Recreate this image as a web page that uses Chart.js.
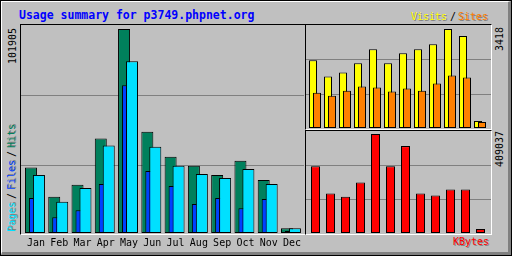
<!DOCTYPE html>
<html>
<head>
<meta charset="utf-8">
<script src="https://cdn.jsdelivr.net/npm/chart.js@4.4.0/dist/chart.umd.min.js"></script>
<style>
  body { margin: 0; background: #c0c0c0; }
  #wrap { position: relative; width: 512px; height: 256px; overflow: hidden; background: #c0c0c0; }
  #frame { position: absolute; left: 0; top: 0; width: 512px; height: 256px; box-sizing: border-box; border: 1px solid #000; }
  #bevel { position: absolute; left: 1px; top: 1px; width: 510px; height: 254px; box-sizing: border-box;
    border-top: 1px solid #fff; border-left: 1px solid #fff; border-right: 3px solid #808080; border-bottom: 3px solid #808080; }
  .panel { position: absolute; box-sizing: border-box; border-top: 1px solid #000; border-left: 1px solid #000;
    border-right: 1px solid #fff; border-bottom: 1px solid #fff; }
  .txt { position: absolute; font-family: "DejaVu Sans Mono", monospace; font-size: 10px; line-height: 10px; white-space: nowrap; }
  .sh { text-shadow: 1px 1px 0 #808080; }
  .up { transform-origin: 0 0; transform: rotate(-90deg); }
  canvas { position: absolute; }
</style>
</head>
<body>
<div id="wrap">
  <div id="frame"></div>
  <div id="bevel"></div>

  <div class="txt" style="left:19px;top:9px;font-size:11.5px;line-height:12px;font-weight:bold;color:#0000ff">Usage summary for p3749.phpnet.org</div>
  <div class="txt sh" style="left:411px;top:12px;color:#ffff00">Visits</div>
  <div class="txt" style="left:450px;top:12px;color:#000">/</div>
  <div class="txt sh" style="left:458px;top:12px;color:#ff8000">Sites</div>
  <div class="txt sh" style="left:453px;top:237px;color:#ff0000">KBytes</div>

  <div class="txt up" style="left:8px;top:64px;color:#000">101905</div>
  <div class="txt up" style="left:495px;top:51px;color:#000">3418</div>
  <div class="txt up" style="left:495px;top:167px;color:#000">409037</div>

  <div class="up" style="position:absolute;left:7px;top:232px;width:110px;height:10px">
    <span class="txt sh" style="left:0;top:0;color:#00e0ff">Pages</span>
    <span class="txt" style="left:33px;top:0;color:#000">/</span>
    <span class="txt sh" style="left:42px;top:0;color:#0040ff">Files</span>
    <span class="txt" style="left:75px;top:0;color:#000">/</span>
    <span class="txt sh" style="left:84px;top:0;color:#00805c">Hits</span>
  </div>

  <div class="panel" style="left:20px;top:24px;width:286px;height:211px"></div>
  <div class="panel" style="left:305px;top:24px;width:187px;height:106px"></div>
  <div class="panel" style="left:305px;top:130px;width:187px;height:105px"></div>

  <canvas id="main" width="284" height="230" style="left:21px;top:25px"></canvas>
  <canvas id="visits" width="185" height="103" style="left:306px;top:25px"></canvas>
  <canvas id="kbytes" width="185" height="102" style="left:306px;top:131px"></canvas>
</div>

<script>
const months = ["Jan", "Feb", "Mar", "Apr", "May", "Jun", "Jul", "Aug", "Sep", "Oct", "Nov", "Dec"]
const hits = [32678, 18098, 24131, 47257, 101905, 50625, 38057, 33532, 29008, 36046, 26494, 2363]
const files = [17445, 7893, 11412, 24483, 73751, 31019, 23478, 14429, 17445, 12418, 16942, 1000]
const pages = [29008, 15585, 22472, 43738, 85818, 43085, 33532, 29511, 27500, 32024, 24483, 2363]
const visits = [2337, 1779, 1918, 2232, 2720, 2232, 2581, 2720, 2895, 3418, 3174, 244]
const sites = [1221, 1116, 1290, 1430, 1395, 1256, 1360, 1290, 1535, 1814, 1744, 209]
const kbytes = [275474, 162778, 150258, 208692, 409037, 275474, 358951, 162778, 154431, 179474, 179474, 16695]

const hitsColor = "#00805c"
const filesColor = "#0040ff"
const pagesColor = "#00e0ff"
const visitsColor = "#ffff00"
const sitesColor = "#ff8000"
const kbytesColor = "#ff0000"

// the two grey index lines in every panel
const gridSteps = [0.325, 0.663]

function bars(values, off, width, color, order) {
    return {
        data: values.map((v, i) => ({ x: i + off, y: v })),
        backgroundColor: color,
        borderColor: "#000",
        borderWidth: 1,
        borderSkipped: false,
        barThickness: width,
        grouped: false,
        inflateAmount: 0,
        order: order,
    }
}

function yAxis(max) {
    return {
        type: "linear",
        min: 0,
        max: max,
        grid: { color: "#808080", lineWidth: 1, drawTicks: false },
        border: { display: false },
        ticks: { display: false },
        afterFit: (s) => { s.width = 0 },
        afterBuildTicks: (s) => { s.ticks = gridSteps.map((f) => ({ value: max * f })) },
    }
}

function monthAxis(min, max, showLabels) {
    return {
        type: "linear",
        min: min,
        max: max,
        offset: false,
        bounds: "data",
        display: showLabels,
        grid: { display: false, drawTicks: false },
        border: { display: false },
        ticks: {
            autoSkip: false,
            maxRotation: 0,
            padding: 4,
            color: "#000",
            font: { family: '"DejaVu Sans Mono", monospace', size: 10 },
            callback: (v) => months[v] ?? "",
        },
        afterBuildTicks: (s) => { s.ticks = months.map((m, i) => ({ value: i })) },
        afterFit: (s) => { if (showLabels) s.height = 22 },
    }
}

const common = {
    responsive: false,
    animation: false,
    events: [],
    layout: { padding: 0 },
    plugins: { legend: { display: false }, tooltip: { enabled: false } },
}

new Chart(document.getElementById("main"), {
    type: "bar",
    data: {
        datasets: [
            bars(hits, -0.214, 12, hitsColor, 3),
            bars(files, -0.086, 10, filesColor, 2),
            bars(pages, 0.128, 12, pagesColor, 1),
        ],
    },
    options: {
        ...common,
        scales: { x: monthAxis(-0.642, 11.516, true), y: yAxis(103900) },
    },
})

new Chart(document.getElementById("visits"), {
    type: "bar",
    data: {
        datasets: [
            bars(visits, -0.1333, 8, visitsColor, 2),
            bars(sites, 0.1333, 8, sitesColor, 1),
        ],
    },
    options: {
        ...common,
        scales: { x: monthAxis(-0.6, 11.7333, false), y: yAxis(3556) },
    },
})

new Chart(document.getElementById("kbytes"), {
    type: "bar",
    data: {
        datasets: [bars(kbytes, 0.0333, 9, kbytesColor, 1)],
    },
    options: {
        ...common,
        scales: { x: monthAxis(-0.6, 11.7333, false), y: yAxis(421430) },
    },
})
</script>
</body>
</html>
